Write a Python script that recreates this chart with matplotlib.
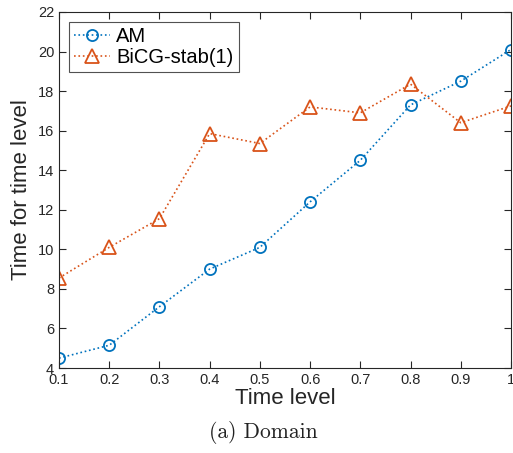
import matplotlib
matplotlib.use("Agg")
import matplotlib.pyplot as plt

x = [0.1, 0.2, 0.3, 0.4, 0.5, 0.6, 0.7, 0.8, 0.9, 1.0]
am = [4.5, 5.15, 7.1, 9.0, 10.1, 12.4, 14.5, 17.3, 18.5, 20.1]
bicg = [8.55, 10.1, 11.55, 15.85, 15.35, 17.2, 16.9, 18.35, 16.4, 17.25]
xticks = [0.1, 0.2, 0.3, 0.4, 0.5, 0.6, 0.7, 0.8, 0.9, 1.0]
xticklabels = ["0.1", "0.2", "0.3", "0.4", "0.5", "0.6", "0.7", "0.8", "0.9", "1"]
yticks = [4, 6, 8, 10, 12, 14, 16, 18, 20, 22]

plt.rcParams['font.family'] = ['Liberation Sans', 'DejaVu Sans']

fig = plt.figure(figsize=(5.13, 4.53), dpi=100)
ax = fig.add_axes([0.115, 0.1876, 0.881, 0.786])

blue = '#0072BD'
orange = '#D95319'
ax.plot(x, am, linestyle=':', color=blue, marker='o', markersize=8,
        markerfacecolor='none', markeredgewidth=1.3, linewidth=1.2, label='AM')
ax.plot(x, bicg, linestyle=':', color=orange, marker='^', markersize=10,
        markerfacecolor='none', markeredgewidth=1.3, linewidth=1.2, label='BiCG-stab(1)')

ax.set_xlim(0.1, 1.0)
ax.set_ylim(4, 22)
ax.set_xticks(xticks)
ax.set_xticklabels(xticklabels)
ax.set_yticks(yticks)
ax.tick_params(direction='in', top=True, right=True, labelsize=10.5,
               length=5, width=0.8, colors='#262626', labelcolor='#262626')
for s in ax.spines.values():
    s.set_color('#262626')
    s.set_linewidth(0.8)

ax.set_xlabel('Time level', fontsize=16, color='#262626', labelpad=1)
ax.set_ylabel('Time for time level', fontsize=16, color='#262626', labelpad=4)

leg = ax.legend(loc='upper left', fontsize=14.5, frameon=True, fancybox=False,
                edgecolor='#262626', handlelength=1.8, handletextpad=0.3,
                borderpad=0.25, labelspacing=0.1, borderaxespad=0.5)
leg.get_frame().set_linewidth(0.8)

fig.text(0.513, 0.045, '(a) Domain', fontsize=15.5, family=['cmr10', 'DejaVu Serif'],
         ha='center', va='center', color='#222222')

fig.savefig('out.png', dpi=100)
